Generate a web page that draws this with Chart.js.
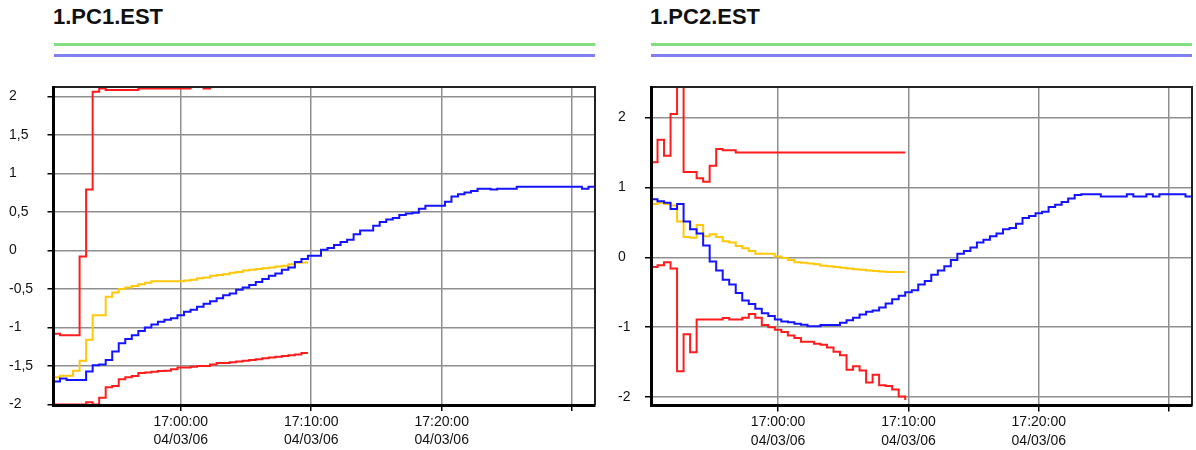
<!DOCTYPE html>
<html>
<head>
<meta charset="utf-8">
<title>1.PC1.EST / 1.PC2.EST</title>
<script src="https://cdn.jsdelivr.net/npm/chart.js@4.4.1/dist/chart.umd.min.js"></script>
<style>
  body { margin: 0; background: #fff; width: 1196px; height: 450px; position: relative; overflow: hidden; }
  .title { position: absolute; top: 6px; font: bold 22px/22px 'Liberation Sans', Arial, sans-serif; color: #111; }
  .bar { position: absolute; height: 3px; width: 541px; }
  .green { top: 43px; background: #80e080; }
  .blue { top: 54px; background: #8080f0; }
  canvas { position: absolute; top: 70px; }
</style>
</head>
<body>
<div class="title" style="left:53px">1.PC1.EST</div>
<div class="bar green" style="left:54px"></div>
<div class="bar blue" style="left:54px"></div>
<div class="title" style="left:650px">1.PC2.EST</div>
<div class="bar green" style="left:651px"></div>
<div class="bar blue" style="left:651px"></div>

<canvas id="pc1" width="598" height="380" style="left:0"></canvas>
<canvas id="pc2" width="598" height="380" style="left:598px"></canvas>

<script>
// samples every 30 s, first one at 16:50:15 (minutes relative to 17:00:00)
const sampleStart = -9.75;
const sampleStep = 0.5;
const sampleCount = 84;

const xTicks = [0, 10, 20, 30];
const xTickLabels = [['17:00:00', '04/03/06'], ['17:10:00', '04/03/06'], ['17:20:00', '04/03/06'], ''];

const pc1YTicks = [-2, -1.5, -1, -0.5, 0, 0.5, 1, 1.5, 2];
const pc2YTicks = [-2, -1, 0, 1, 2];

// 1.PC1.EST
const pc1Blue = [
  -1.70, -1.66, -1.68, -1.68, -1.68, -1.57, -1.49, -1.48, -1.42, -1.31,
  -1.205, -1.15, -1.10, -1.045, -1.00, -0.96, -0.925, -0.90, -0.88, -0.84,
  -0.795, -0.77, -0.73, -0.69, -0.66, -0.62, -0.58, -0.56, -0.51, -0.48,
  -0.45, -0.41, -0.37, -0.33, -0.30, -0.25, -0.22, -0.15, -0.11, -0.07,
  -0.07, 0.01, 0.03, 0.07, 0.11, 0.14, 0.21, 0.26, 0.26, 0.32,
  0.37, 0.40, 0.42, 0.46, 0.48, 0.49, 0.54, 0.58, 0.58, 0.58,
  0.63, 0.70, 0.73, 0.75, 0.77, 0.80, 0.80, 0.79, 0.80, 0.80,
  0.80, 0.825, 0.825, 0.825, 0.825, 0.825, 0.825, 0.825, 0.825, 0.825,
  0.825, 0.80, 0.825, 0.825
];
const pc1Yellow = [
  -1.645, -1.625, -1.625, -1.56, -1.43, -1.16, -0.84, -0.84, -0.60, -0.545,
  -0.50, -0.48, -0.46, -0.44, -0.42, -0.40, -0.40, -0.40, -0.40, -0.40,
  -0.39, -0.38, -0.36, -0.35, -0.33, -0.32, -0.31, -0.29, -0.28, -0.26,
  -0.25, -0.24, -0.23, -0.22, -0.21, -0.20, -0.18, -0.16, -0.155, -0.155
];
const pc1RedHigh = [
  -1.08, -1.10, -1.10, -1.10, -0.08, 0.79, 2.06, 2.10, 2.08, 2.08,
  2.08, 2.08, 2.08, 2.10, 2.10, 2.10, 2.10, 2.10, 2.10, 2.10,
  2.10, 2.25, 2.25, 2.10, 2.30
];
const pc1RedLow = [
  -2.00, -2.00, -2.00, -2.00, -2.00, -1.97, -2.00, -1.91, -1.775, -1.76,
  -1.67, -1.645, -1.63, -1.59, -1.585, -1.575, -1.565, -1.56, -1.54, -1.52,
  -1.52, -1.51, -1.50, -1.50, -1.48, -1.46, -1.46, -1.45, -1.44, -1.43,
  -1.42, -1.41, -1.40, -1.39, -1.38, -1.37, -1.36, -1.35, -1.33, -1.33
];

// 1.PC2.EST
const pc2Blue = [
  0.83, 0.80, 0.78, 0.69, 0.76, 0.51, 0.40, 0.34, 0.17, -0.06,
  -0.19, -0.32, -0.39, -0.51, -0.62, -0.67, -0.735, -0.80, -0.84, -0.89,
  -0.92, -0.93, -0.95, -0.965, -0.985, -0.985, -0.97, -0.97, -0.97, -0.935,
  -0.90, -0.865, -0.82, -0.78, -0.76, -0.72, -0.66, -0.60, -0.55, -0.50,
  -0.47, -0.39, -0.34, -0.25, -0.19, -0.13, -0.04, 0.05, 0.09, 0.14,
  0.21, 0.25, 0.30, 0.34, 0.40, 0.42, 0.48, 0.56, 0.59, 0.63,
  0.65, 0.72, 0.75, 0.79, 0.84, 0.89, 0.90, 0.90, 0.90, 0.87,
  0.87, 0.87, 0.87, 0.90, 0.87, 0.87, 0.90, 0.87, 0.90, 0.90,
  0.90, 0.90, 0.87, 0.87
];
const pc2Yellow = [
  0.76, 0.78, 0.76, 0.74, 0.51, 0.29, 0.28, 0.46, 0.30, 0.33,
  0.29, 0.23, 0.21, 0.16, 0.13, 0.09, 0.05, 0.05, 0.05, 0.01,
  -0.01, -0.04, -0.07, -0.08, -0.09, -0.10, -0.12, -0.13, -0.14, -0.15,
  -0.16, -0.17, -0.18, -0.19, -0.195, -0.205, -0.21, -0.21, -0.21, -0.21
];
const pc2RedHigh = [
  1.36, 1.68, 1.45, 2.05, 2.60, 1.22, 1.22, 1.13, 1.08, 1.31,
  1.55, 1.53, 1.53, 1.50, 1.50, 1.50, 1.50, 1.50, 1.50, 1.50,
  1.50, 1.50, 1.50, 1.50, 1.50, 1.50, 1.50, 1.50, 1.50, 1.50,
  1.50, 1.50, 1.50, 1.50, 1.50, 1.50, 1.50, 1.50, 1.50, 1.50
];
const pc2RedLow = [
  -0.14, -0.115, -0.07, -0.16, -1.63, -1.10, -1.36, -0.89, -0.89, -0.89,
  -0.89, -0.87, -0.89, -0.89, -0.865, -0.81, -0.865, -0.97, -1.00, -1.035,
  -1.07, -1.12, -1.155, -1.21, -1.21, -1.236, -1.25, -1.29, -1.35, -1.40,
  -1.61, -1.56, -1.62, -1.79, -1.68, -1.83, -1.84, -1.89, -1.99, -2.04
];

const BLUE = '#1414ff';
const YELLOW = '#ffc80a';
const RED = '#ff1c1c';

const labelFont = { family: "'Liberation Sans', Arial, sans-serif", size: 14, lineHeight: 1.3 };

function toPoints(values) {
    return values.map((v, i) => ({ x: sampleStart + i * sampleStep, y: v }));
}

// thin frame on top and right side of the plot area
const framePlugin = {
    id: 'frame',
    afterDatasetsDraw(chart) {
        const { ctx, chartArea: a } = chart;
        ctx.save();
        ctx.strokeStyle = '#222';
        ctx.lineWidth = 2;
        ctx.beginPath();
        ctx.moveTo(a.left, a.top);
        ctx.lineTo(a.right, a.top);
        ctx.lineTo(a.right, a.bottom);
        ctx.stroke();
        ctx.restore();
    }
};

function makeChart(id, series, yMin, yMax, yTicks, pad, yWidth, xHeight) {
    const gridOpts = { color: '#8f8f8f', lineWidth: 1.5, tickColor: '#000', tickWidth: 1.5, tickLength: 6 };
    const borderOpts = { color: '#000', width: 3, z: 1 };

    return new Chart(document.getElementById(id), {
        type: 'line',
        data: {
            datasets: series.map(s => ({
                data: toPoints(s.values),
                borderColor: s.color,
                borderWidth: 2,
                stepped: true,
                pointRadius: 0,
                fill: false
            }))
        },
        options: {
            responsive: false,
            animation: false,
            devicePixelRatio: 1,
            layout: { padding: pad },
            plugins: { legend: { display: false }, tooltip: { enabled: false } },
            scales: {
                x: {
                    type: 'linear',
                    min: sampleStart,
                    max: sampleStart + (sampleCount - 1) * sampleStep,
                    afterBuildTicks: s => { s.ticks = xTicks.map(v => ({ value: v })); },
                    afterFit: s => { s.height = xHeight; },
                    grid: gridOpts,
                    border: borderOpts,
                    ticks: {
                        callback: (v, i) => xTickLabels[i],
                        autoSkip: false,
                        maxRotation: 0,
                        padding: 2,
                        color: '#111',
                        font: labelFont
                    }
                },
                y: {
                    min: yMin,
                    max: yMax,
                    afterBuildTicks: s => { s.ticks = yTicks.map(v => ({ value: v })); },
                    afterFit: s => { s.width = yWidth; },
                    grid: gridOpts,
                    border: borderOpts,
                    ticks: {
                        callback: v => String(v).replace('.', ','),
                        crossAlign: 'far',
                        color: '#111',
                        font: labelFont
                    }
                }
            }
        },
        plugins: [framePlugin]
    });
}

makeChart('pc1', [
    { values: pc1Blue, color: BLUE },
    { values: pc1Yellow, color: YELLOW },
    { values: pc1RedHigh, color: RED },
    { values: pc1RedLow, color: RED }
], -2.005, 2.12, pc1YTicks, { left: 9, top: 17, right: 3, bottom: 0 }, 44.5, 45);

makeChart('pc2', [
    { values: pc2Blue, color: BLUE },
    { values: pc2Yellow, color: YELLOW },
    { values: pc2RedHigh, color: RED },
    { values: pc2RedLow, color: RED }
], -2.12, 2.435, pc2YTicks, { left: 20, top: 17, right: 4, bottom: 0 }, 33, 44.5);
</script>
</body>
</html>
